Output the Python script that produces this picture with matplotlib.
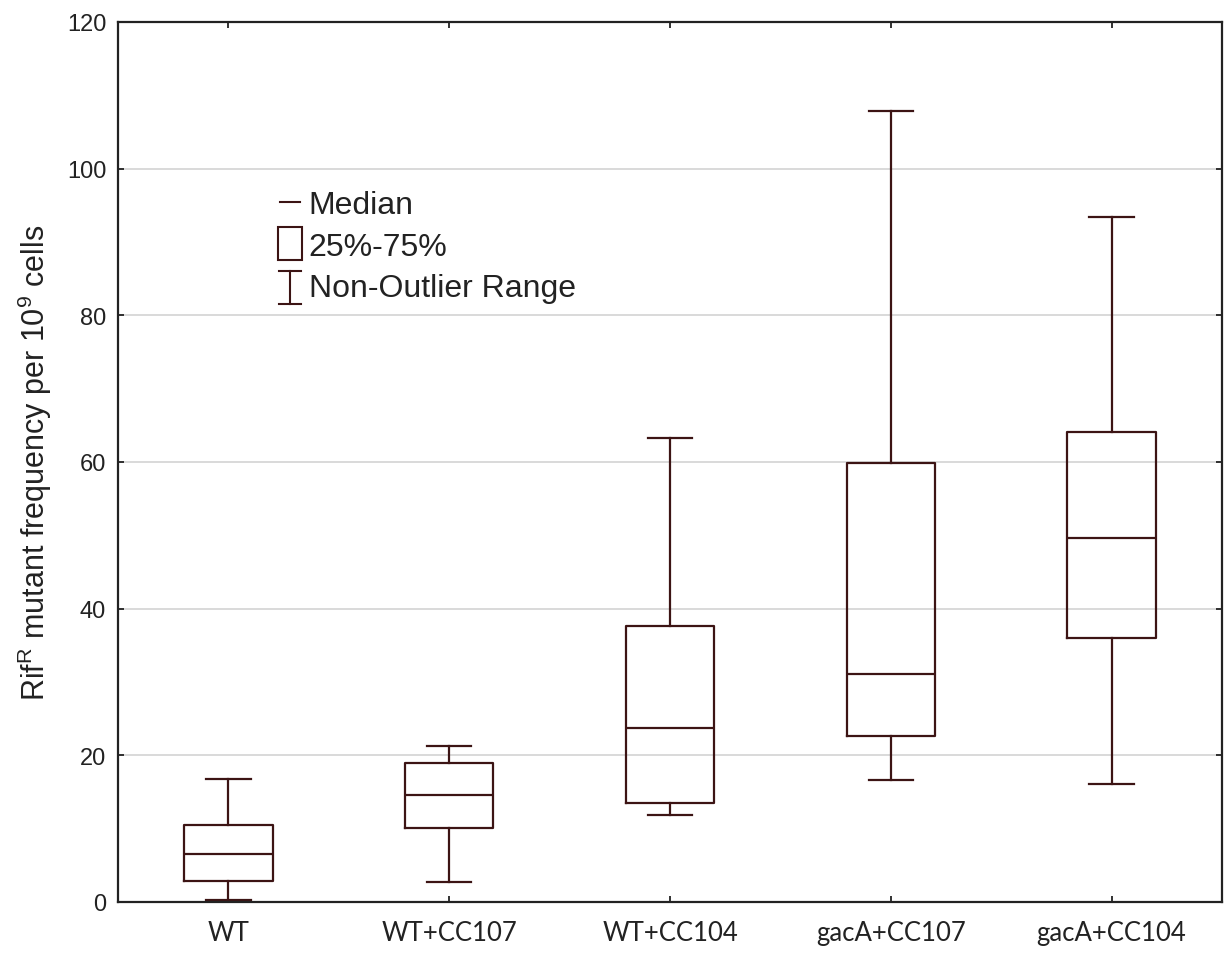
import numpy as np
import matplotlib
matplotlib.use('Agg')
import matplotlib.pyplot as plt
from matplotlib.legend_handler import HandlerBase
from matplotlib.lines import Line2D
from matplotlib.patches import Rectangle

# values
groups = ['WT', 'WT+CC107', 'WT+CC104', 'gacA+CC107', 'gacA+CC104']
whis_lo = [0.3, 2.7, 11.9, 16.6, 16.1]
q1 = [2.8, 10.1, 13.5, 22.6, 36.0]
median = [6.5, 14.6, 23.7, 31.1, 49.6]
q3 = [10.5, 19.0, 37.6, 59.9, 64.1]
whis_hi = [16.7, 21.2, 63.3, 107.9, 93.4]
yticks = [0, 20, 40, 60, 80, 100, 120]

col = '#3c1414'
axcol = '#222222'

plt.rcParams['font.family'] = ['Liberation Sans', 'DejaVu Sans']
plt.rcParams['mathtext.fontset'] = 'custom'
plt.rcParams['mathtext.rm'] = 'Liberation Sans'
plt.rcParams['mathtext.default'] = 'regular'


class KeyHandler(HandlerBase):
    def __init__(self, kind):
        super().__init__()
        self.kind = kind

    def create_artists(self, legend, orig_handle, xd, yd, w, h, fontsize, trans):
        x0, y0 = -xd, -yd
        kw = dict(color=col, lw=1.5, transform=trans)
        if self.kind == 'median':
            return [Line2D([x0 + 0.08 * w, x0 + 0.92 * w], [y0 + h / 2] * 2, **kw)]
        if self.kind == 'box':
            return [Rectangle((x0, y0 - 0.25 * h), w, 1.5 * h, facecolor='white',
                              edgecolor=col, lw=1.5, transform=trans)]
        cx = x0 + w / 2
        return [Line2D([cx, cx], [y0 - 0.35 * h, y0 + 1.1 * h], **kw),
                Line2D([x0 + 0.05 * w, x0 + 0.95 * w], [y0 - 0.35 * h] * 2, **kw),
                Line2D([x0 + 0.05 * w, x0 + 0.95 * w], [y0 + 1.1 * h] * 2, **kw)]


fig = plt.figure(figsize=(12.27, 9.54), dpi=100)
ax = fig.add_axes([0.0962, 0.0535, 0.8997, 0.9224])

stats = []
for i, g in enumerate(groups):
    stats.append(dict(label=g, med=median[i], q1=q1[i], q3=q3[i],
                      whislo=whis_lo[i], whishi=whis_hi[i], fliers=[]))

pos = np.arange(1, len(groups) + 1)
ax.bxp(stats, positions=pos, widths=0.4, capwidths=0.2, showfliers=False,
       boxprops=dict(color=col, lw=1.6),
       medianprops=dict(color=col, lw=1.6),
       whiskerprops=dict(color=col, lw=1.6),
       capprops=dict(color=col, lw=1.6))

ax.set_xlim(0.5, len(groups) + 0.5)
ax.set_ylim(0, 120)
ax.set_yticks(yticks)
ax.set_xticks(pos)
ax.set_xticklabels(groups, family=['Lato', 'DejaVu Sans'], fontsize=18.5, color=axcol)
ax.tick_params(axis='y', labelsize=17, colors=axcol, pad=8.5)
ax.tick_params(axis='x', pad=13)
ax.tick_params(direction='in', length=4, width=1.3, top=True, right=True,
               color=axcol)
ax.yaxis.grid(True, color='#d0d0d0', lw=1.1)
ax.set_axisbelow(True)
for s in ax.spines.values():
    s.set_linewidth(1.6)
    s.set_color(axcol)

ax.set_ylabel(r'Rif$^{R}$ mutant frequency per 10$^{9}$ cells', fontsize=22,
              color=axcol, labelpad=9)

h_med, h_box, h_rng = Line2D([], []), Line2D([], []), Line2D([], [])
leg = ax.legend([h_med, h_box, h_rng], ['Median', '25%-75%', 'Non-Outlier Range'],
                handler_map={h_med: KeyHandler('median'), h_box: KeyHandler('box'),
                             h_rng: KeyHandler('range')},
                loc='upper left', bbox_to_anchor=(0.145, 0.809), frameon=False,
                fontsize=23, borderpad=0, borderaxespad=0, handlelength=0.76,
                handletextpad=0.2, labelspacing=0.36)
for t in leg.get_texts():
    t.set_color(axcol)

fig.savefig('out.png', dpi=100)
